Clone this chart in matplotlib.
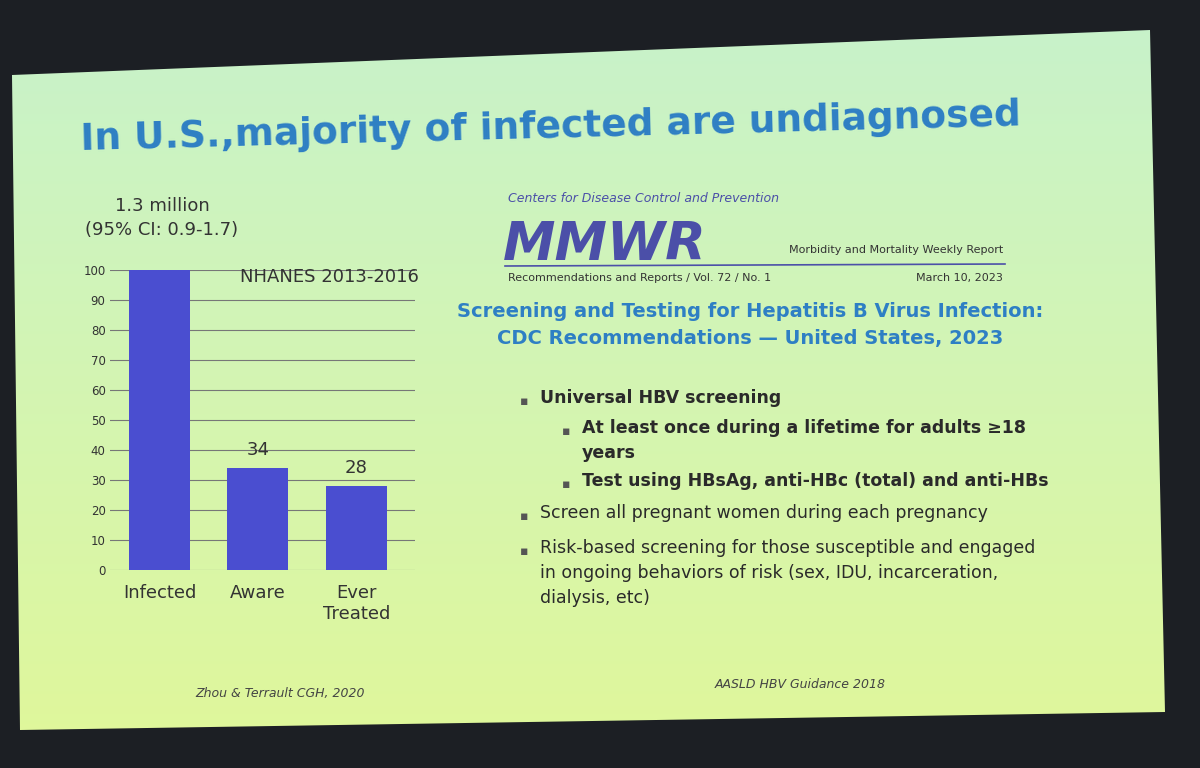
import numpy as np
import matplotlib.pyplot as plt
from matplotlib.patches import Polygon

categories = ['Infected', 'Aware', 'Ever\nTreated']
values = [100, 34, 28]
value_labels = ['', '34', '28']
yticks = list(range(0, 101, 10))

W, H = 1200, 768
fig = plt.figure(figsize=(12, 7.68), dpi=100)
fig.patch.set_facecolor('#1c1f24')

# slide background (gradient, light green top to yellow-green bottom)
bg = fig.add_axes([0, 0, 1, 1])
bg.set_xlim(0, W)
bg.set_ylim(H, 0)
bg.axis('off')
grad = np.linspace(0, 1, 256).reshape(-1, 1)
top = np.array([0.78, 0.95, 0.80])
bot = np.array([0.88, 0.97, 0.60])
img = top + (bot - top) * grad[..., None]
im = bg.imshow(img, extent=(0, W, H, 0), aspect='auto', zorder=1)
slide = Polygon([(12, 75), (1150, 30), (1165, 712), (20, 730)], closed=True,
                transform=bg.transData, facecolor='none')
bg.add_patch(slide)
im.set_clip_path(slide)

blue = '#2e7fc4'
bg.text(80, 150, 'In U.S.,majority of infected are undiagnosed', fontsize=27,
        fontweight='bold', color=blue, rotation=1.5, zorder=3)
bg.text(162, 218, '1.3 million\n(95% CI: 0.9-1.7)', fontsize=13, ha='center',
        va='center', color='#333333', linespacing=1.4, zorder=3)
bg.text(280, 697, 'Zhou & Terrault CGH, 2020', fontsize=9, style='italic',
        ha='center', color='#444444', zorder=3)
bg.text(800, 688, 'AASLD HBV Guidance 2018', fontsize=9, style='italic',
        ha='center', color='#444444', zorder=3)

# MMWR header
mmwr = '#4b4fa8'
bg.text(508, 202, 'Centers for Disease Control and Prevention', fontsize=9,
        style='italic', color=mmwr, zorder=3)
bg.text(503, 260, 'MMWR', fontsize=38, fontweight='bold', style='italic',
        color=mmwr, zorder=3)
bg.plot([505, 1005], [266, 264], color=mmwr, lw=1.2, zorder=3)
bg.text(508, 281, 'Recommendations and Reports / Vol. 72 / No. 1', fontsize=8,
        color='#333333', zorder=3)
bg.text(1003, 253, 'Morbidity and Mortality Weekly Report', fontsize=8,
        color='#333333', ha='right', zorder=3)
bg.text(1003, 281, 'March 10, 2023', fontsize=8, color='#333333', ha='right', zorder=3)

bg.text(750, 325, 'Screening and Testing for Hepatitis B Virus Infection:\nCDC Recommendations \u2014 United States, 2023',
        fontsize=14, fontweight='bold', color=blue, ha='center', va='center',
        linespacing=1.5, zorder=3)

dark = '#2a2a2a'
items = [
    (520, 395, '\u25aa', 540, 'Universal HBV screening', 'bold'),
    (562, 425, '\u25aa', 582, 'At least once during a lifetime for adults \u226518\nyears', 'bold'),
    (562, 478, '\u25aa', 582, 'Test using HBsAg, anti-HBc (total) and anti-HBs', 'bold'),
    (520, 510, '\u25aa', 540, 'Screen all pregnant women during each pregnancy', 'normal'),
    (520, 545, '\u25aa', 540, 'Risk-based screening for those susceptible and engaged\nin ongoing behaviors of risk (sex, IDU, incarceration,\ndialysis, etc)', 'normal'),
]
for bx, by, b, tx, t, w in items:
    bg.text(bx, by, b, fontsize=9, color='#555555', va='top', zorder=3)
    bg.text(tx, by - 6, t, fontsize=12.5, fontweight=w, color=dark, va='top',
            linespacing=1.5, zorder=3)

# bar chart
ax = fig.add_axes([0.092, 0.258, 0.254, 0.39])
ax.set_facecolor('none')
x = np.arange(len(categories))
ax.bar(x, values, width=0.62, color='#4a4ed0', zorder=3)
for xi, v, lab in zip(x, values, value_labels):
    if lab:
        ax.text(xi, v + 3, lab, ha='center', va='bottom', fontsize=13, color='#333333')
ax.set_ylim(0, 100)
ax.set_xlim(-0.5, 2.6)
ax.set_yticks(yticks)
ax.tick_params(axis='y', labelsize=8.5, colors='#333333', length=0)
ax.set_xticks(x)
ax.set_xticklabels(categories, fontsize=13, color='#333333')
ax.tick_params(axis='x', length=0, pad=10)
ax.grid(axis='y', color='#777777', lw=0.8, zorder=0)
for s in ax.spines.values():
    s.set_visible(False)
ax.text(0.72, 0.96, 'NHANES 2013-2016', transform=ax.transAxes, fontsize=13,
        ha='center', color='#333333', zorder=4)

fig.savefig('out.png', dpi=100, facecolor=fig.get_facecolor())
